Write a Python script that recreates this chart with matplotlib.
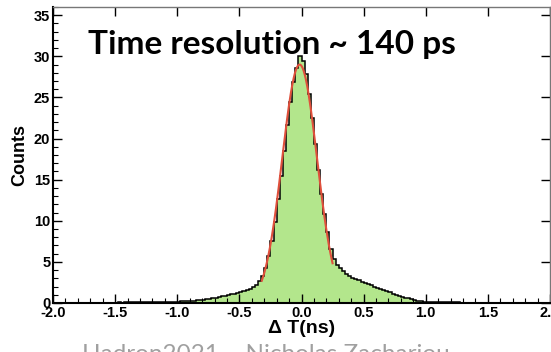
import numpy as np
import matplotlib
matplotlib.use("Agg")
import matplotlib.pyplot as plt
from matplotlib.ticker import MultipleLocator

# histogram of time differences, 160 bins from -2 to 2 ns
x_min, x_max, n_bins = -2.0, 2.0, 160
counts = [
    0.02, 0.03, 0.02, 0.03, 0.03, 0.02, 0.04, 0.03, 0.03, 0.04,
    0.04, 0.03, 0.05, 0.04, 0.05, 0.04, 0.05, 0.06, 0.05, 0.06,
    0.06, 0.07, 0.06, 0.07, 0.08, 0.07, 0.08, 0.09, 0.08, 0.09,
    0.10, 0.10, 0.11, 0.12, 0.11, 0.12, 0.13, 0.14, 0.15, 0.16,
    0.17, 0.19, 0.21, 0.24, 0.26, 0.29, 0.32, 0.35, 0.39, 0.43,
    0.48, 0.55, 0.62, 0.70, 0.80, 0.90, 1.00, 1.07, 1.13, 1.20,
    1.30, 1.42, 1.55, 1.65, 1.95, 2.25, 2.70, 3.30, 4.30, 5.70,
    7.60, 9.90, 12.6, 15.5, 18.5, 21.6, 24.5, 26.9, 28.6, 30.0,
    29.4, 27.9, 25.4, 22.5, 19.3, 16.2, 13.3, 10.8, 8.6, 6.6,
    5.3, 4.6, 4.2, 3.85, 3.55, 3.3, 3.1, 2.9, 2.75, 2.6,
    2.45, 2.3, 2.15, 2.0, 1.85, 1.7, 1.55, 1.4, 1.28, 1.15,
    1.02, 0.9, 0.78, 0.66, 0.55, 0.45, 0.36, 0.28, 0.2, 0.15,
    0.12, 0.11, 0.10, 0.10, 0.09, 0.09, 0.08, 0.08, 0.07, 0.07,
    0.07, 0.06, 0.06, 0.06, 0.05, 0.05, 0.05, 0.05, 0.04, 0.04,
    0.04, 0.04, 0.03, 0.04, 0.03, 0.03, 0.03, 0.03, 0.02, 0.03,
    0.02, 0.02, 0.02, 0.03, 0.02, 0.02, 0.02, 0.02, 0.01, 0.02,
]

# gaussian fit parameters
fit_amp = 29.0
fit_mean = -0.015
fit_sigma = 0.14
fit_lo, fit_hi = -0.32, 0.25

title = "Time resolution ~ 140 ps"
footer = "Hadron2021 \u2013 Nicholas Zachariou"

W, H = 551, 352
fig = plt.figure(figsize=(W / 100, H / 100), dpi=100)
ax = fig.add_axes([53 / W, 1 - 303 / H, (550 - 53) / W, (303 - 7) / H])

edges = np.linspace(x_min, x_max, n_bins + 1)
ax.stairs(counts, edges, fill=True, color="#b3e68c", lw=0)
ax.stairs(counts, edges, color="black", lw=1.1)

xf = np.linspace(fit_lo, fit_hi, 200)
ax.plot(xf, fit_amp * np.exp(-0.5 * ((xf - fit_mean) / fit_sigma) ** 2),
        color="#e0503c", lw=1.5)

ax.set_xlim(x_min, x_max)
ax.set_ylim(0, 36)
ax.xaxis.set_major_locator(MultipleLocator(0.5))
ax.xaxis.set_minor_locator(MultipleLocator(0.1))
ax.yaxis.set_major_locator(MultipleLocator(5))
ax.yaxis.set_minor_locator(MultipleLocator(1))
ax.xaxis.set_major_formatter(plt.FuncFormatter(lambda v, p: f"{v:.1f}"))

ax.tick_params(which="both", direction="in", top=True, right=True)
ax.tick_params(which="major", length=6.5, width=1)
ax.tick_params(which="minor", length=3.5, width=0.8, top=False, right=False)
ax.tick_params(axis="x", pad=2)
ax.tick_params(axis="y", pad=2)
for lab in ax.get_xticklabels() + ax.get_yticklabels():
    lab.set_fontfamily("Liberation Sans")
    lab.set_fontweight("bold")
    lab.set_fontsize(10.5)

for s in ["left", "bottom"]:
    ax.spines[s].set_linewidth(1.5)
for s in ["top", "right"]:
    ax.spines[s].set_linewidth(1.0)
    ax.spines[s].set_color("#777777")

ax.set_xlabel("\u0394 T(ns)", fontfamily="Liberation Sans", fontweight="bold",
              fontsize=14, labelpad=0)
ax.set_ylabel("Counts", fontfamily="Liberation Sans", fontweight="bold",
              fontsize=13, labelpad=4)

fig.text(88 / W, 1 - 54 / H, title, fontfamily="Lato", fontweight="bold",
         fontsize=24, ha="left", va="baseline")
fig.text(82 / W, 1 - 344 / H, footer, fontfamily="Lato", fontsize=17.5,
         color="#a0a0a0", ha="left", va="top")

fig.savefig("out.png", dpi=100)
